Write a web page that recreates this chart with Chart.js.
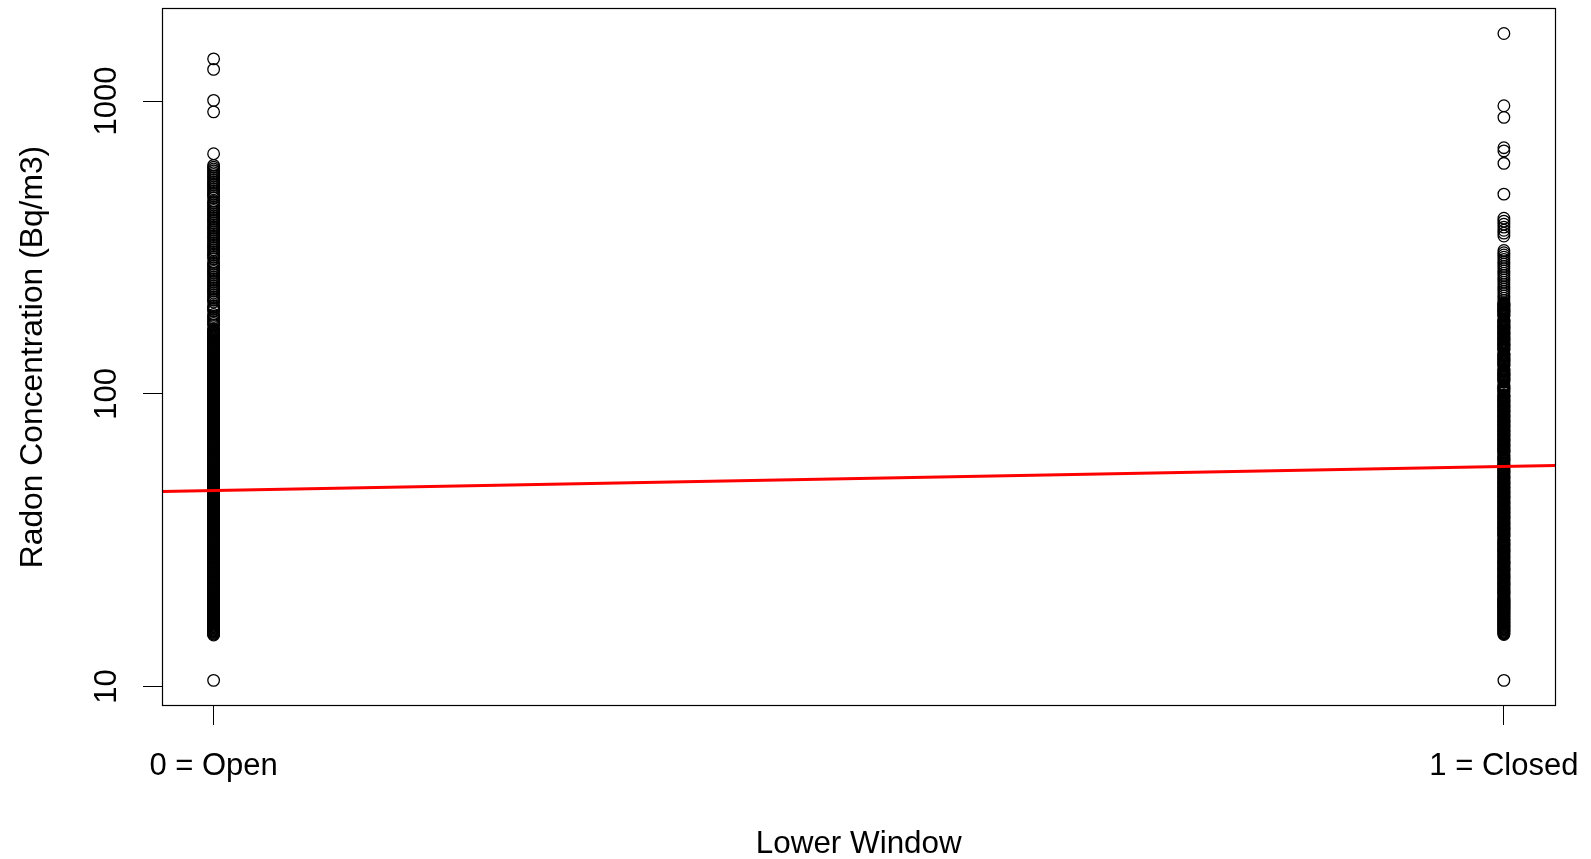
<!DOCTYPE html>
<html>
<head>
<meta charset="utf-8">
<title>Radon Concentration by Lower Window</title>
<script src="https://cdn.jsdelivr.net/npm/chart.js"></script>
<style>
  html, body { margin: 0; padding: 0; background: #ffffff; }
  canvas { display: block; }
</style>
</head>
<body>
<canvas id="radonChart" width="1591" height="859"></canvas>
<script>
// Lower window state: 0 = open, 1 = closed
const windowCodes = [0, 1];
const xTickLabels = ['0 = Open', '1 = Closed'];
const yTickValues = [10, 100, 1000];

// Radon concentration (Bq/m3) for homes with the lower window open
const openRadon = [
  10.5,
  15.0, 15.1, 15.2, 15.3, 15.4, 15.5, 15.6, 15.7, 15.8, 15.9, 16.0, 16.1, 16.2, 16.3, 16.4, 16.5, 16.6, 16.7,
  16.8, 16.9, 17.0, 17.1, 17.2, 17.3, 17.4, 17.5, 17.6, 17.7, 17.8, 17.9, 18.0, 18.1, 18.2, 18.3, 18.4, 18.5,
  18.6, 18.7, 18.8, 18.9, 19.0, 19.1, 19.2, 19.3, 19.4, 19.5, 19.6, 19.7, 19.8, 19.9, 20.0,
  20.15, 20.3, 20.45, 20.6, 20.75, 20.9, 21.05, 21.2, 21.35, 21.5, 21.65, 21.8, 21.95, 22.1, 22.25, 22.4, 22.55,
  22.7, 22.85, 23.0, 23.2, 23.35, 23.5, 23.7, 23.85, 24.0, 24.2, 24.35, 24.5, 24.7, 24.9, 25.05, 25.2, 25.4,
  25.6, 25.75, 25.9, 26.1, 26.3, 26.45, 26.6, 26.8, 27.0, 27.2, 27.4, 27.55, 27.7, 27.9, 28.1, 28.3, 28.5, 28.7,
  28.9, 29.1, 29.3, 29.5, 29.7, 29.9,
  30.1, 30.3, 30.5, 30.7, 30.9, 31.1, 31.3, 31.5, 31.7, 31.9, 32.1, 32.35, 32.6, 32.8, 33.0, 33.2, 33.45, 33.7,
  33.9, 34.1, 34.35, 34.6, 34.8, 35.0, 35.25, 35.5, 35.75, 36.0, 36.2, 36.45, 36.7, 36.95, 37.2, 37.45, 37.7,
  37.95, 38.2, 38.45, 38.7, 38.95, 39.2, 39.45, 39.7, 40.0, 40.25, 40.5, 40.8, 41.05, 41.3, 41.6, 41.85, 42.1,
  42.4, 42.7, 42.95, 43.2, 43.5, 43.8, 44.1, 44.4, 44.7,
  45.0, 45.3, 45.6, 45.9, 46.2, 46.5, 46.8, 47.1, 47.4, 47.7, 48.0, 48.3, 48.6, 48.95, 49.3, 49.6, 49.95, 50.3,
  50.6, 50.95, 51.3, 51.65, 52.0, 52.35, 52.7, 53.05, 53.4, 53.75, 54.1, 54.5, 54.85, 55.2, 55.6, 55.95, 56.3,
  56.7, 57.1, 57.45, 57.85, 58.25, 58.6, 59.0, 59.4, 59.8, 60.2, 60.6, 61.0, 61.4, 61.8, 62.2, 62.6, 63.0,
  63.45, 63.9, 64.3, 64.7, 65.15, 65.6, 66.0, 66.45, 66.9, 67.3, 67.75, 68.2, 68.65, 69.1, 69.55,
  70.0, 70.45, 70.9, 71.4, 71.85, 72.3, 72.8, 73.25, 73.75, 74.2, 74.7, 75.2, 75.7, 76.2, 76.7, 77.2, 77.7,
  78.2, 78.7, 79.2, 79.75, 80.25, 80.8, 81.3, 81.85, 82.4, 82.95, 83.5, 84.05, 84.6, 85.15, 85.7, 86.3, 86.85,
  87.4, 88.0, 88.6, 89.15, 89.75, 90.35, 90.95, 91.55, 92.15, 92.75, 93.35, 94.0, 94.6, 95.25, 95.85, 96.5,
  97.15, 97.8, 98.45, 99.1, 99.75,
  100.4, 101.1, 101.75, 102.4, 103.1, 103.8, 104.5, 105.2, 105.9, 106.6, 107.3, 108.0, 108.7, 109.4, 110.1,
  110.9, 111.6, 112.4, 113.1, 113.9, 114.6, 115.4, 116.2, 117.0, 117.8, 118.6, 119.4, 120.2, 121.0, 121.8,
  122.6, 123.4, 124.3, 125.1, 126.0, 126.8, 127.7, 128.5, 129.4, 130.3, 131.2, 132.1, 133.0, 133.9, 134.8,
  135.7, 136.6, 137.5, 138.5, 139.4, 140.4, 141.3, 142.3, 143.2, 144.2, 145.2, 146.2, 147.2, 148.2, 149.2,
  150.2, 151.2, 152.2, 153.3, 154.3, 155.4, 156.4, 157.5, 158.5, 159.6, 160.7, 161.8, 162.9, 164.0, 165.1,
  166.8, 171.6, 174.0, 176.5, 179.0, 181.5, 184.0, 186.6, 191.9, 194.6, 197.3, 200.1, 205.9, 208.8, 211.8,
  214.8, 217.9, 221.0, 224.2, 227.4, 230.6, 233.9, 237.2, 240.6, 244.0, 247.5, 251.0, 254.6, 258.2, 261.9,
  265.6, 269.4, 273.2, 277.1, 281.0, 289.1, 293.2, 297.4, 301.6, 305.9, 310.3, 314.7, 319.2, 323.7, 328.3,
  333.0, 337.7, 342.5, 347.4, 352.3, 357.3, 362.4, 367.6, 372.8, 378.1, 383.5, 389.0, 394.5, 400.1, 405.8,
  411.6, 417.4, 423.4, 429.4, 435.5, 441.7, 448.0, 454.4, 467.4, 474.1, 480.8, 487.7, 494.6, 501.7, 508.8,
  516.1, 523.4, 530.9, 538.4, 546.1, 553.9, 561.8, 569.8, 577.9, 586.1, 594.5, 603.0,
  661, 919, 1006, 1283, 1394
];

// Radon concentration (Bq/m3) for homes with the lower window closed
const closedRadon = [
  10.5,
  15.05, 15.15, 15.25, 15.35, 15.45, 15.55, 15.65, 15.75, 15.85, 15.95, 16.05, 16.15, 16.25, 16.35, 16.45,
  16.55, 16.65, 16.75, 16.85, 16.95, 17.05, 17.15, 17.25, 17.35, 17.45, 17.55, 17.65, 17.75, 17.85, 17.95,
  18.05, 18.15, 18.25, 18.35, 18.45, 18.55, 18.65, 18.75, 18.85, 18.95, 19.05, 19.15, 19.25, 19.35, 19.45,
  19.55, 19.65, 19.75, 19.85, 19.95,
  20.1, 20.25, 20.4, 20.55, 20.7, 20.85, 21.0, 21.15, 21.3, 21.45, 21.6, 21.75, 21.9, 22.05, 22.2, 22.35, 22.5,
  22.65, 22.8, 22.95, 23.1, 23.25, 23.45, 23.6, 23.8, 23.95, 24.1, 24.3, 24.45, 24.6, 24.8, 25.0, 25.15, 25.3,
  25.5, 25.7, 25.85, 26.0, 26.2, 26.4, 26.55, 26.7, 26.9, 27.1, 27.3, 27.5, 27.65, 27.8, 28.0, 28.2, 28.4, 28.6,
  28.8, 29.0, 29.2, 29.4, 29.6, 29.8, 30.0,
  30.2, 30.4, 30.6, 30.8, 31.0, 31.2, 31.4, 31.6, 31.8, 32.4, 32.6, 32.85, 33.1, 33.3, 33.55, 33.8, 34.0,
  34.25, 34.5, 34.7, 34.9, 35.15, 35.4, 35.6, 35.85, 36.1, 36.35, 36.6, 36.85, 37.1, 37.35, 37.6, 37.85, 38.1,
  38.35, 38.6, 38.85, 39.1, 39.35, 39.6, 39.85, 40.1, 40.4, 40.65, 40.9, 41.2, 41.45, 41.75, 42.0, 42.3, 42.55,
  42.85, 43.1, 43.4, 43.7, 44.0, 44.3, 44.6, 44.85,
  45.15, 45.45, 45.75, 46.05, 46.35, 46.65, 46.95, 47.25, 47.55, 47.85, 48.15, 48.45, 48.8, 49.1, 49.45, 49.8,
  50.1, 50.45, 50.8, 51.15, 51.5, 51.8, 52.15, 52.5, 52.9, 53.25, 53.6, 53.95, 54.3, 54.7, 55.05, 55.4, 55.8,
  56.15, 56.5, 56.9, 57.3, 57.65, 58.05, 58.9, 59.3, 59.7, 60.1, 60.5, 60.9, 61.3, 61.7, 62.8, 63.2, 63.65,
  64.05, 64.5, 64.9, 65.35, 65.8, 66.2, 66.65, 67.1, 67.55, 68.0, 68.45, 68.9, 69.35, 69.8,
  70.25, 70.7, 71.15, 71.6, 72.1, 72.55, 73.0, 73.5, 74.0, 74.45, 74.95, 75.45, 75.95, 76.45, 76.95, 77.45,
  77.95, 78.45, 78.95, 79.5, 80.0, 80.5, 81.05, 81.6, 82.1, 82.65, 83.2, 83.75, 84.3, 84.85, 85.4, 86.0, 86.55,
  87.1, 87.7, 88.3, 88.85, 89.45, 90.05, 90.65, 91.25, 91.85, 92.45, 93.05, 93.7, 94.3, 94.9, 95.55, 96.2,
  96.8, 97.45, 98.1, 98.75, 99.4, 100.9,
  101.6, 102.3, 103.0, 103.7, 104.4, 105.1, 105.8, 106.5, 107.2, 109.8, 110.5, 111.2, 112.0, 112.7, 113.5,
  114.2, 115.0, 115.8, 116.5, 117.3, 118.1, 118.9, 119.7, 120.5, 121.3, 124.2, 125.0, 125.9, 126.7, 127.6,
  128.4, 129.3, 130.2, 131.1, 132.0, 132.9, 133.8, 134.7, 135.6, 136.5, 137.4, 140.7, 141.6, 142.6, 143.5,
  144.5, 145.5, 146.4, 147.4, 148.4, 149.4, 150.4, 151.4, 152.5, 153.5, 154.5, 155.6, 156.6, 157.7, 158.8,
  159.8, 160.9, 162.0, 163.1, 164.2, 165.4, 166.5, 167.6, 168.8, 169.9, 171.1, 172.3, 173.4, 174.6, 175.8,
  177.0, 178.2, 179.5, 183.8, 185.0, 186.3, 187.5, 188.8, 190.1, 191.4, 192.7, 194.0, 195.3, 196.6, 198.0,
  199.3, 200.7, 202.0, 203.4, 204.8,
  208.5, 212.3, 216.1, 220.0, 224.0, 228.0, 232.1, 236.3, 240.6, 244.9, 249.3, 253.8, 258.4, 263.0, 267.8,
  272.6, 277.5, 282.5, 287.6, 292.8, 298.0, 303.4, 308.9,
  346, 354, 362, 371, 380, 389, 398,
  481, 613, 676, 693, 880, 964, 1702
];

// Fitted regression of log concentration on window state, evaluated at 0 and 1
const fittedRadon = [46.7, 56.5];

const TEXT_FONT = '"Liberation Sans", Arial, Helvetica, sans-serif';
const TICK_SIZE = 31;

// Box around the plotting region
const plotBox = {
  id: 'plotBox',
  afterDatasetsDraw(chart) {
    const { ctx, chartArea: a } = chart;
    ctx.save();
    ctx.strokeStyle = '#000000';
    ctx.lineWidth = 1.2;
    ctx.strokeRect(Math.round(a.left) + 0.5, Math.round(a.top) + 0.5,
                   Math.round(a.right - a.left) - 1, Math.round(a.bottom - a.top) - 1);
    ctx.restore();
  }
};

// Regression line, extended across the whole plotting region
const fitLine = {
  id: 'fitLine',
  afterDatasetsDraw(chart) {
    const { ctx, chartArea: a, scales: { x, y } } = chart;
    const x0 = x.getPixelForValue(windowCodes[0]);
    const x1 = x.getPixelForValue(windowCodes[1]);
    const y0 = y.getPixelForValue(fittedRadon[0]);
    const y1 = y.getPixelForValue(fittedRadon[1]);
    const slope = (y1 - y0) / (x1 - x0);
    ctx.save();
    ctx.beginPath();
    ctx.rect(a.left, a.top, a.right - a.left, a.bottom - a.top);
    ctx.clip();
    ctx.beginPath();
    ctx.moveTo(a.left, y0 + slope * (a.left - x0));
    ctx.lineTo(a.right, y0 + slope * (a.right - x0));
    ctx.strokeStyle = '#ff0000';
    ctx.lineWidth = 3;
    ctx.stroke();
    ctx.restore();
  }
};

// Vertical-axis tick labels, written parallel to the axis
const yTickText = {
  id: 'yTickText',
  afterDraw(chart) {
    const { ctx, scales: { y } } = chart;
    ctx.save();
    ctx.fillStyle = '#000000';
    ctx.font = TICK_SIZE + 'px ' + TEXT_FONT;
    ctx.textAlign = 'center';
    ctx.textBaseline = 'middle';
    yTickValues.forEach(v => {
      ctx.save();
      ctx.translate(107, y.getPixelForValue(v));
      ctx.rotate(-Math.PI / 2);
      ctx.fillText(String(v), 0, 0);
      ctx.restore();
    });
    ctx.restore();
  }
};

const pointStyle = {
  type: 'scatter',
  pointStyle: 'circle',
  pointRadius: 5.8,
  pointHoverRadius: 5.8,
  pointBorderWidth: 1.3,
  pointBackgroundColor: 'rgba(0,0,0,0)',
  pointBorderColor: '#000000',
  showLine: false
};

new Chart(document.getElementById('radonChart'), {
  type: 'scatter',
  data: {
    datasets: [
      Object.assign({ label: xTickLabels[0], data: openRadon.map(v => ({ x: windowCodes[0], y: v })) }, pointStyle),
      Object.assign({ label: xTickLabels[1], data: closedRadon.map(v => ({ x: windowCodes[1], y: v })) }, pointStyle)
    ]
  },
  options: {
    responsive: false,
    animation: false,
    devicePixelRatio: 1,
    events: [],
    layout: { padding: { left: 0, right: 35.5, top: 8, bottom: 0 } },
    plugins: {
      legend: { display: false },
      tooltip: { enabled: false }
    },
    scales: {
      x: {
        type: 'linear',
        min: -0.04,
        max: 1.04,
        afterBuildTicks(scale) {
          scale.ticks = windowCodes.map(v => ({ value: v }));
        },
        afterFit(scale) {
          scale.height = 153;
          scale.paddingLeft = 0;
          scale.paddingRight = 0;
        },
        border: { display: false },
        grid: { drawOnChartArea: false, drawTicks: true, tickLength: 19, color: '#000000', lineWidth: 1 },
        ticks: {
          autoSkip: false,
          maxRotation: 0,
          minRotation: 0,
          padding: 23,
          color: '#000000',
          font: { family: TEXT_FONT, size: TICK_SIZE },
          callback: (value) => xTickLabels[windowCodes.indexOf(value)]
        },
        title: {
          display: true,
          text: 'Lower Window',
          color: '#000000',
          font: { family: TEXT_FONT, size: 31.4 },
          padding: { top: 0, bottom: -4 }
        }
      },
      y: {
        type: 'logarithmic',
        min: 8.58,
        max: 2080,
        afterBuildTicks(scale) {
          scale.ticks = yTickValues.map(v => ({ value: v }));
        },
        afterFit(scale) {
          scale.width = 162;
          scale.paddingTop = 0;
          scale.paddingBottom = 0;
        },
        border: { display: false },
        grid: { drawOnChartArea: false, drawTicks: true, tickLength: 19, color: '#000000', lineWidth: 1 },
        ticks: { display: false },
        title: {
          display: true,
          text: 'Radon Concentration (Bq/m3)',
          color: '#000000',
          font: { family: TEXT_FONT, size: 31.8 },
          padding: { top: 14, bottom: 0 }
        }
      }
    }
  },
  plugins: [fitLine, plotBox, yTickText]
});
</script>
</body>
</html>
